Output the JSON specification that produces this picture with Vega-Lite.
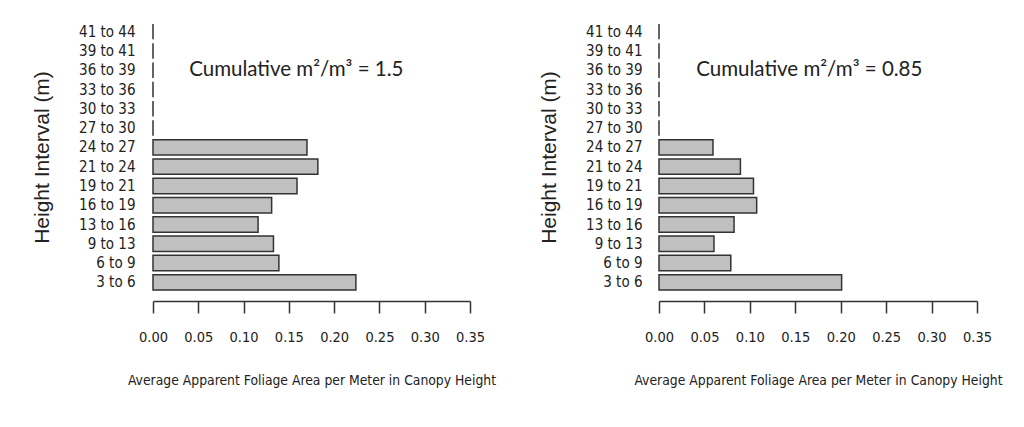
{
  "$schema": "https://vega.github.io/schema/vega-lite/v6.json",
  "background": "white",
  "padding": {"left": 31, "top": 22, "right": 5, "bottom": 5},
  "spacing": 42,
  "datasets": {
    "bars": [
      {"panel": "A", "interval": "3 to 6", "value": 0.224},
      {"panel": "A", "interval": "6 to 9", "value": 0.139},
      {"panel": "A", "interval": "9 to 13", "value": 0.133},
      {"panel": "A", "interval": "13 to 16", "value": 0.116},
      {"panel": "A", "interval": "16 to 19", "value": 0.131},
      {"panel": "A", "interval": "19 to 21", "value": 0.159},
      {"panel": "A", "interval": "21 to 24", "value": 0.182},
      {"panel": "A", "interval": "24 to 27", "value": 0.170},
      {"panel": "A", "interval": "27 to 30", "value": 0},
      {"panel": "A", "interval": "30 to 33", "value": 0},
      {"panel": "A", "interval": "33 to 36", "value": 0},
      {"panel": "A", "interval": "36 to 39", "value": 0},
      {"panel": "A", "interval": "39 to 41", "value": 0},
      {"panel": "A", "interval": "41 to 44", "value": 0},
      {"panel": "B", "interval": "3 to 6", "value": 0.201},
      {"panel": "B", "interval": "6 to 9", "value": 0.079},
      {"panel": "B", "interval": "9 to 13", "value": 0.0605},
      {"panel": "B", "interval": "13 to 16", "value": 0.0826},
      {"panel": "B", "interval": "16 to 19", "value": 0.1075},
      {"panel": "B", "interval": "19 to 21", "value": 0.104},
      {"panel": "B", "interval": "21 to 24", "value": 0.0896},
      {"panel": "B", "interval": "24 to 27", "value": 0.0594},
      {"panel": "B", "interval": "27 to 30", "value": 0},
      {"panel": "B", "interval": "30 to 33", "value": 0},
      {"panel": "B", "interval": "33 to 36", "value": 0},
      {"panel": "B", "interval": "36 to 39", "value": 0},
      {"panel": "B", "interval": "39 to 41", "value": 0},
      {"panel": "B", "interval": "41 to 44", "value": 0}
    ],
    "notes": [
      {"panel": "A", "label": "Cumulative m²/m³ = 1.5", "x": 0.040, "interval": "36 to 39"},
      {"panel": "B", "label": "Cumulative m²/m³ = 0.85", "x": 0.041, "interval": "36 to 39"}
    ]
  },
  "config": {
    "view": {"stroke": null},
    "axis": {"grid": false, "labelColor": "#222", "titleColor": "#222", "titleFontWeight": "normal"}
  },
  "hconcat": [
    {
      "width": 317,
      "height": 270,
      "layer": [
        {
          "data": {"name": "bars"},
          "transform": [{"filter": "datum.panel === 'A'"}],
          "mark": {"type": "bar", "fill": "#c0c0c0", "stroke": "#333333", "strokeWidth": 1.5},
          "encoding": {
            "y": {
              "field": "interval", "type": "nominal",
              "sort": ["41 to 44","39 to 41","36 to 39","33 to 36","30 to 33","27 to 30","24 to 27","21 to 24","19 to 21","16 to 19","13 to 16","9 to 13","6 to 9","3 to 6"],
              "scale": {"paddingInner": 0.2, "paddingOuter": 0.1},
              "axis": {"domain": false, "ticks": false, "labelPadding": 18, "labelOverlap": false, "labelFont": "DejaVu Sans Condensed", "labelFontSize": 15, "title": "Height Interval (m)", "titleFont": "Liberation Sans", "titleFontSize": 21, "titlePadding": 26}
            },
            "x": {
              "field": "value", "type": "quantitative",
              "scale": {"domain": [0, 0.35], "nice": false},
              "axis": {"offset": 9, "values": [0,0.05,0.1,0.15,0.2,0.25,0.3,0.35], "format": ".2f", "domainColor": "#333", "domainWidth": 1.5, "tickColor": "#333", "tickWidth": 1.5, "tickSize": 12, "labelPadding": 17, "labelOverlap": false, "labelFlush": false, "labelFont": "DejaVu Sans Condensed", "labelFontSize": 14.5, "title": "Average Apparent Foliage Area per Meter in Canopy Height", "titleFont": "DejaVu Sans Condensed", "titleFontSize": 13.8, "titlePadding": 30}
            }
          }
        },
        {
          "data": {"name": "notes"},
          "transform": [{"filter": "datum.panel === 'A'"}],
          "mark": {"type": "text", "align": "left", "baseline": "middle", "font": "Lato", "fontSize": 20.5, "color": "#222"},
          "encoding": {
            "x": {"field": "x", "type": "quantitative"},
            "y": {"field": "interval", "type": "nominal", "sort": ["41 to 44","39 to 41","36 to 39","33 to 36","30 to 33","27 to 30","24 to 27","21 to 24","19 to 21","16 to 19","13 to 16","9 to 13","6 to 9","3 to 6"]},
            "text": {"field": "label"}
          }
        }
      ]
    },
    {
      "width": 318,
      "height": 270,
      "layer": [
        {
          "data": {"name": "bars"},
          "transform": [{"filter": "datum.panel === 'B'"}],
          "mark": {"type": "bar", "fill": "#c0c0c0", "stroke": "#333333", "strokeWidth": 1.5},
          "encoding": {
            "y": {
              "field": "interval", "type": "nominal",
              "sort": ["41 to 44","39 to 41","36 to 39","33 to 36","30 to 33","27 to 30","24 to 27","21 to 24","19 to 21","16 to 19","13 to 16","9 to 13","6 to 9","3 to 6"],
              "scale": {"paddingInner": 0.2, "paddingOuter": 0.1},
              "axis": {"domain": false, "ticks": false, "labelPadding": 17, "labelOverlap": false, "labelFont": "DejaVu Sans Condensed", "labelFontSize": 15, "title": "Height Interval (m)", "titleFont": "Liberation Sans", "titleFontSize": 21, "titlePadding": 26}
            },
            "x": {
              "field": "value", "type": "quantitative",
              "scale": {"domain": [0, 0.35], "nice": false},
              "axis": {"offset": 9, "values": [0,0.05,0.1,0.15,0.2,0.25,0.3,0.35], "format": ".2f", "domainColor": "#333", "domainWidth": 1.5, "tickColor": "#333", "tickWidth": 1.5, "tickSize": 12, "labelPadding": 17, "labelOverlap": false, "labelFlush": false, "labelFont": "DejaVu Sans Condensed", "labelFontSize": 14.5, "title": "Average Apparent Foliage Area per Meter in Canopy Height", "titleFont": "DejaVu Sans Condensed", "titleFontSize": 13.8, "titlePadding": 30}
            }
          }
        },
        {
          "data": {"name": "notes"},
          "transform": [{"filter": "datum.panel === 'B'"}],
          "mark": {"type": "text", "align": "left", "baseline": "middle", "font": "Lato", "fontSize": 20.5, "color": "#222"},
          "encoding": {
            "x": {"field": "x", "type": "quantitative"},
            "y": {"field": "interval", "type": "nominal", "sort": ["41 to 44","39 to 41","36 to 39","33 to 36","30 to 33","27 to 30","24 to 27","21 to 24","19 to 21","16 to 19","13 to 16","9 to 13","6 to 9","3 to 6"]},
            "text": {"field": "label"}
          }
        }
      ]
    }
  ]
}
